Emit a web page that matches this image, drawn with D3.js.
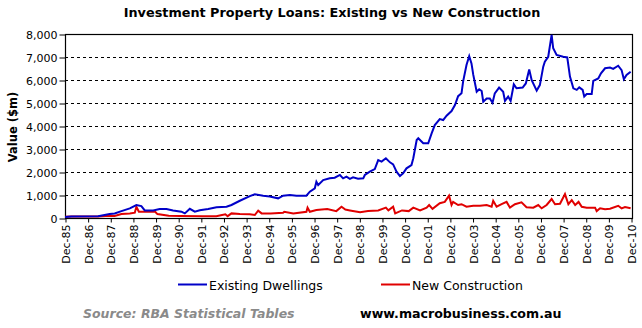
<!DOCTYPE html>
<html><head><meta charset="utf-8">
<script src="https://cdn.jsdelivr.net/npm/d3@7"></script>
<style>body{margin:0;background:#fff}svg{display:block}</style>
</head><body>
<svg id="c" width="642" height="328"></svg>
<script>
const title = "Investment Property Loans: Existing vs New Construction";
const yTitle = "Value ($m)";
const seriesNames = ["Existing Dwellings", "New Construction"];
const tickYears = d3.range(1985, 2011);
const yTicks = [0,1000,2000,3000,4000,5000,6000,7000,8000];

const existingT = [1985.92,1986.2,1987.38,1987.89,1988.11,1988.41,1988.78,1989.07,1989.29,1989.44,1989.81,1990.1,1990.4,1990.69,1991.06,1991.21,1991.43,1991.65,1991.87,1992.24,1992.61,1993.05,1993.27,1993.64,1994.08,1994.3,1994.67,1994.96,1995.33,1995.55,1995.85,1996.14,1996.58,1996.73,1996.95,1997.02,1997.1,1997.32,1997.61,1997.83,1998.06,1998.2,1998.35,1998.5,1998.64,1998.86,1999.09,1999.16,1999.38,1999.6,1999.75,1999.9,2000.09,2000.27,2000.41,2000.56,2000.71,2000.85,2001.0,2001.22,2001.3,2001.45,2001.52,2001.74,2001.96,2002.11,2002.25,2002.47,2002.62,2002.77,2002.99,2003.14,2003.28,2003.43,2003.5,2003.65,2003.77,2003.87,2003.95,2004.1,2004.21,2004.32,2004.39,2004.54,2004.68,2004.8,2004.9,2005.09,2005.27,2005.35,2005.49,2005.6,2005.74,2005.86,2006.13,2006.27,2006.42,2006.53,2006.75,2006.89,2007.04,2007.11,2007.26,2007.41,2007.48,2007.63,2007.92,2008.1,2008.22,2008.37,2008.52,2008.63,2008.78,2008.85,2008.96,2009.18,2009.25,2009.47,2009.59,2009.77,2009.99,2010.13,2010.35,2010.5,2010.6,2010.72,2010.9];
const existingV = [40,70,80,170,200,300,420,565,520,330,330,390,390,330,275,200,400,275,340,390,465,490,565,750,950,1030,970,930,855,970,1000,970,970,1145,1290,1580,1435,1650,1725,1750,1870,1725,1800,1700,1770,1710,1725,1870,2015,2130,2520,2450,2595,2420,2330,2015,1825,1940,2160,2300,2600,3390,3465,3250,3250,3680,4040,4300,4260,4450,4650,4910,5300,5420,5930,6650,7040,6720,6220,5490,5600,5520,5060,5200,5200,5010,5420,5670,5490,5090,5280,5090,5810,5640,5670,5850,6460,5990,5540,5780,6580,6800,7010,7960,7380,7090,7010,6980,6150,5640,5570,5680,5570,5280,5390,5390,5960,6070,6290,6510,6540,6480,6620,6430,6030,6220,6360];

const newT = [1985.92,1986.2,1987.38,1987.89,1988.11,1988.41,1988.78,1989.0,1989.07,1989.18,1989.9,1990.0,1990.5,1991.0,1992.0,1992.6,1992.75,1993.0,1993.1,1993.27,1993.64,1994.08,1994.3,1994.45,1994.6,1995.0,1995.55,1995.6,1996.0,1996.58,1996.63,1996.73,1997.02,1997.5,1997.9,1998.13,1998.3,1998.5,1998.95,1999.3,1999.75,2000.09,2000.2,2000.41,2000.5,2000.8,2001.1,2001.3,2001.6,2001.89,2002.0,2002.15,2002.47,2002.69,2002.88,2002.99,2003.06,2003.28,2003.43,2003.65,2003.95,2004.25,2004.54,2004.76,2004.83,2004.98,2005.2,2005.42,2005.57,2005.79,2006.08,2006.3,2006.6,2006.82,2006.97,2007.19,2007.41,2007.56,2007.78,2008.0,2008.15,2008.3,2008.45,2008.6,2008.74,2008.96,2009.33,2009.4,2009.55,2009.77,2009.99,2010.35,2010.5,2010.65,2010.9];
const newV = [50,70,70,100,90,170,200,230,490,270,270,170,100,90,80,80,110,160,80,200,170,160,130,320,200,200,230,270,200,270,450,270,350,390,300,490,370,330,250,300,330,450,330,490,200,330,300,450,330,450,565,400,640,700,970,565,700,565,600,490,530,530,565,490,750,490,600,700,450,600,680,470,450,565,420,565,825,600,620,1040,600,780,565,700,490,450,450,300,420,380,400,530,420,480,420];

const colors = ["#0000c8", "#e00000"];
const font = "DejaVu Sans, Verdana, sans-serif";

const svg = d3.select("#c").style("font-family", font);
svg.append("rect").attr("width",642).attr("height",328).attr("fill","#fff");

const x = d3.scaleLinear().domain([1985.917, 2010.96]).range([65, 632]);
const y = d3.scaleLinear().domain([0, 8000]).range([218, 34]);

// gridlines
svg.append("g").selectAll("line").data(yTicks.filter(v => v > 0 && v < 8000)).join("line")
  .attr("x1", 65).attr("x2", 632).attr("y1", d => y(d)+0.5).attr("y2", d => y(d)+0.5)
  .attr("stroke", "#000").attr("stroke-width", 1).attr("stroke-dasharray", "3,3");

// y axis
const yAxis = d3.axisLeft(y).tickValues(yTicks).tickFormat(d3.format(",")).tickSize(6).tickSizeOuter(0);
const gy = svg.append("g").attr("transform", "translate(65.5,0.5)").call(yAxis);
gy.select(".domain").remove();
gy.selectAll("text").attr("font-size", 11).attr("font-family", font).attr("fill", "#000").attr("x", -8);

// x axis
const xAxis = d3.axisBottom(x).tickValues(tickYears.map(t => t + 11/12))
  .tickFormat((d, i) => "Dec-" + String(tickYears[i] % 100).padStart(2, "0")).tickSize(4).tickSizeOuter(0);
const gx = svg.append("g").attr("transform", "translate(0.5,218.5)").call(xAxis);
gx.select(".domain").remove();
gx.selectAll("text").attr("font-size", 11).attr("font-family", font).attr("fill", "#000")
  .attr("text-anchor", "end").attr("transform", "rotate(-90)").attr("x", -6).attr("y", 0).attr("dy", "0.36em");

// plot frame
svg.append("rect").attr("x", 65.5).attr("y", 34.5).attr("width", 567).attr("height", 184)
  .attr("fill", "none").attr("stroke", "#000").attr("stroke-width", 1.2);

// lines
const line = d3.line().x(d => x(d[0])).y(d => y(d[1]));
const newData = d3.zip(newT, newV);
const exData = d3.zip(existingT, existingV);
svg.append("path").datum(newData).attr("d", line).attr("fill", "none").attr("stroke", colors[1]).attr("stroke-width", 2);
svg.append("path").datum(exData).attr("d", line).attr("fill", "none").attr("stroke", colors[0]).attr("stroke-width", 2);

// title
svg.append("text").attr("x", 332).attr("y", 16.5).attr("text-anchor", "middle")
  .attr("font-weight", "bold").attr("font-size", 12.8).text(title);

// y title
svg.append("text").attr("transform", "translate(16.5,127) rotate(-90)").attr("text-anchor", "middle")
  .attr("font-weight", "bold").attr("font-size", 11.5).text(yTitle);

// legend
const legX = [178, 381];
seriesNames.forEach((n, i) => {
  svg.append("line").attr("x1", legX[i]).attr("x2", legX[i] + 29).attr("y1", 284.5).attr("y2", 284.5)
    .attr("stroke", colors[i]).attr("stroke-width", 2);
  svg.append("text").attr("x", legX[i] + 31).attr("y", 289.5).attr("font-size", 12.5).text(n);
});

// footer
svg.append("text").attr("x", 83).attr("y", 318).attr("font-size", 12.5).attr("font-weight", "bold")
  .attr("font-style", "italic").attr("fill", "#8a8a8a").text("Source: RBA Statistical Tables");
svg.append("text").attr("x", 360).attr("y", 318).attr("font-size", 12.6).attr("font-weight", "bold")
  .attr("fill", "#000").text("www.macrobusiness.com.au");
</script>
</body></html>
